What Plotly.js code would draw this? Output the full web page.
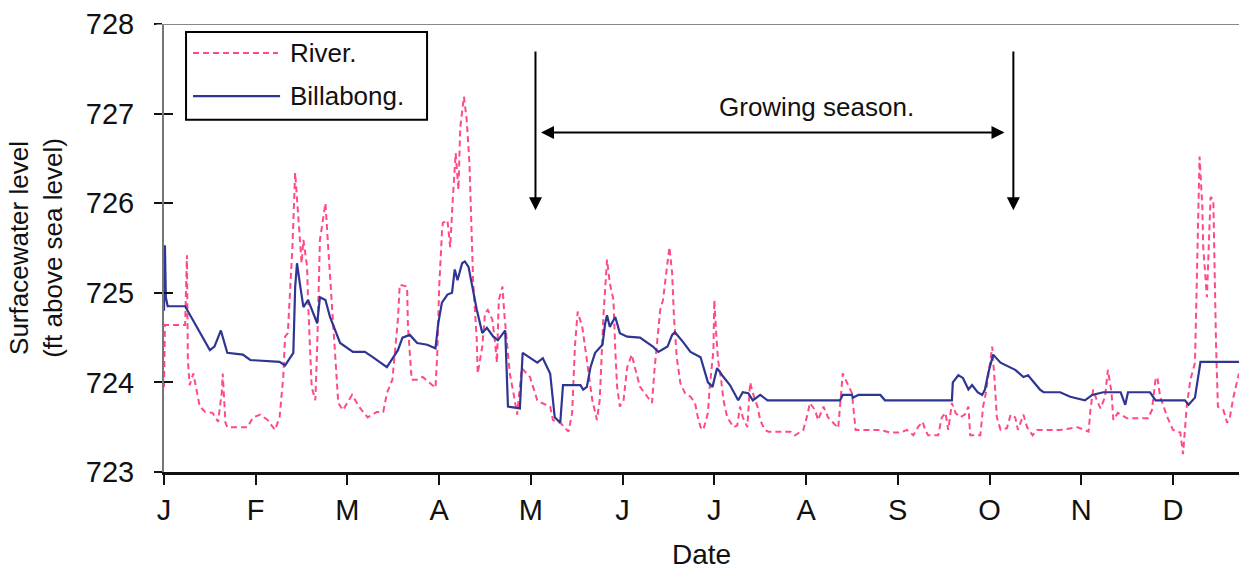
<!DOCTYPE html>
<html>
<head>
<meta charset="utf-8">
<script src="https://cdn.plot.ly/plotly-3.0.1.min.js"></script>
<style>
  html, body { margin: 0; padding: 0; background: #fff; }
  #chart { width: 1239px; height: 575px; }
</style>
</head>
<body>
<div id="chart"></div>
<script>
// x values are in months since 1 January (0 = J, 1 = F, ...)
const monthTicks = [0, 1, 2, 3, 4, 5, 6, 7, 8, 9, 10, 11];
const monthLabels = ["J", "F", "M", "A", "M", "J", "J", "A", "S", "O", "N", "D"];
const levelTicks = [723, 724, 725, 726, 727, 728];

const billabongX = [0.00,0.01,0.02,0.04,0.23,0.31,0.50,0.55,0.62,0.69,0.86,0.94,1.26,1.32,1.41,1.43,1.45,1.48,1.52,1.57,1.67,1.70,1.76,1.81,1.92,2.06,2.19,2.28,2.43,2.55,2.60,2.68,2.76,2.87,2.96,2.99,3.03,3.09,3.14,3.17,3.20,3.25,3.28,3.32,3.37,3.41,3.47,3.52,3.59,3.64,3.72,3.75,3.88,3.91,4.07,4.13,4.21,4.26,4.32,4.35,4.54,4.57,4.61,4.65,4.70,4.78,4.81,4.83,4.86,4.92,4.97,5.05,5.19,5.33,5.39,5.49,5.54,5.57,5.66,5.74,5.85,5.93,5.98,6.03,6.10,6.17,6.26,6.31,6.37,6.42,6.50,6.58,7.37,7.40,7.50,7.51,7.57,7.81,7.86,8.59,8.60,8.66,8.71,8.77,8.81,8.87,8.92,8.95,8.99,9.04,9.12,9.28,9.37,9.42,9.55,9.59,9.77,9.88,10.04,10.12,10.24,10.43,10.48,10.51,10.75,10.81,11.13,11.17,11.24,11.28,11.30,11.72];
const billabongY = [724.80,725.53,724.95,724.85,724.85,724.70,724.36,724.40,724.58,724.33,724.31,724.25,724.23,724.19,724.33,725.06,725.33,725.11,724.84,724.92,724.66,724.95,724.92,724.73,724.44,724.34,724.34,724.28,724.17,724.36,724.50,724.53,724.44,724.42,724.38,724.66,724.89,724.98,725.00,725.26,725.14,725.33,725.35,725.29,725.00,724.81,724.55,724.61,724.51,724.47,724.58,723.73,723.71,724.33,724.22,724.27,724.10,723.61,723.55,723.97,723.97,723.92,723.95,724.17,724.33,724.42,724.66,724.75,724.62,724.73,724.55,724.51,724.50,724.40,724.34,724.40,724.53,724.56,724.45,724.34,724.28,724.00,723.95,724.16,724.06,723.97,723.80,723.89,723.88,723.80,723.86,723.80,723.80,723.86,723.86,723.83,723.86,723.86,723.80,723.80,724.00,724.08,724.05,723.92,723.97,723.89,723.86,723.92,724.12,724.31,724.22,724.14,724.06,724.08,723.92,723.89,723.89,723.84,723.80,723.86,723.89,723.89,723.75,723.89,723.89,723.80,723.80,723.75,723.83,724.08,724.23,724.23];

const riverX = [0.00,0.01,0.21,0.23,0.25,0.26,0.28,0.32,0.39,0.45,0.53,0.59,0.63,0.64,0.67,0.69,0.91,0.97,1.05,1.13,1.21,1.26,1.30,1.32,1.35,1.40,1.43,1.46,1.50,1.52,1.56,1.57,1.61,1.65,1.67,1.70,1.73,1.76,1.79,1.83,1.89,1.90,1.95,2.05,2.14,2.22,2.32,2.39,2.43,2.49,2.55,2.57,2.65,2.66,2.70,2.76,2.82,2.90,2.96,2.98,3.00,3.03,3.04,3.09,3.12,3.15,3.18,3.21,3.23,3.27,3.30,3.33,3.36,3.37,3.41,3.42,3.47,3.50,3.53,3.58,3.61,3.63,3.65,3.69,3.71,3.74,3.77,3.81,3.85,3.90,3.99,4.07,4.12,4.21,4.24,4.32,4.41,4.45,4.48,4.51,4.56,4.59,4.62,4.67,4.72,4.75,4.79,4.81,4.83,4.86,4.90,4.92,4.94,4.97,5.01,5.05,5.10,5.14,5.19,5.27,5.32,5.35,5.41,5.44,5.49,5.51,5.54,5.56,5.59,5.63,5.68,5.74,5.79,5.82,5.85,5.88,5.93,5.95,5.99,6.00,6.02,6.04,6.07,6.10,6.14,6.21,6.25,6.28,6.31,6.36,6.39,6.42,6.47,6.50,6.55,6.59,6.83,6.88,6.97,7.02,7.04,7.10,7.13,7.19,7.24,7.30,7.35,7.37,7.40,7.45,7.50,7.54,7.81,7.92,8.03,8.10,8.17,8.22,8.27,8.30,8.33,8.44,8.48,8.52,8.55,8.59,8.63,8.68,8.73,8.77,8.79,8.90,8.93,8.96,9.01,9.03,9.06,9.08,9.12,9.19,9.23,9.28,9.31,9.37,9.41,9.47,9.52,9.77,9.96,10.08,10.10,10.13,10.17,10.21,10.26,10.29,10.33,10.35,10.40,10.50,10.73,10.77,10.81,10.83,10.86,10.94,11.00,11.08,11.11,11.15,11.19,11.24,11.26,11.29,11.32,11.33,11.37,11.41,11.44,11.45,11.47,11.49,11.55,11.59,11.62,11.66,11.70,11.72];
const riverY = [723.95,724.64,724.64,724.64,725.42,724.25,723.97,724.10,723.73,723.67,723.66,723.56,723.89,724.10,723.55,723.50,723.50,723.61,723.64,723.58,723.47,723.61,724.06,724.51,724.55,725.51,726.34,725.85,725.33,725.59,725.29,724.92,723.95,723.80,724.40,725.59,725.81,726.00,725.51,724.84,723.80,723.77,723.69,723.86,723.71,723.61,723.67,723.67,723.88,724.03,724.70,725.09,725.07,724.62,724.03,724.03,724.06,723.99,723.94,724.33,725.06,725.67,725.78,725.81,725.51,726.07,726.56,726.15,726.85,727.19,726.93,726.45,725.51,725.14,724.47,724.10,724.40,724.77,724.81,724.70,724.44,724.22,724.92,725.07,724.77,724.40,724.10,723.88,723.64,724.16,724.06,723.80,723.77,723.73,723.58,723.55,723.45,723.66,724.40,724.79,724.62,724.40,724.17,723.80,723.58,723.80,724.73,725.11,725.37,725.11,724.92,724.36,723.95,723.73,723.80,724.17,724.31,724.14,723.95,723.84,723.77,724.17,724.81,724.92,725.33,725.51,725.22,724.73,724.28,723.99,723.88,723.84,723.77,723.61,723.50,723.47,723.66,723.95,724.36,724.92,724.55,724.25,724.06,723.80,723.61,723.50,723.52,723.73,723.61,723.50,724.00,723.88,723.73,723.58,723.47,723.45,723.45,723.41,723.47,723.66,723.77,723.69,723.58,723.73,723.61,723.55,723.49,723.73,724.10,723.99,723.88,723.47,723.47,723.44,723.44,723.47,723.41,723.50,723.56,723.47,723.41,723.41,723.61,723.66,723.47,723.77,723.66,723.61,723.64,723.73,723.41,723.41,723.73,723.88,724.25,724.40,723.95,723.61,723.47,723.49,723.64,723.61,723.47,723.64,723.50,723.41,723.47,723.47,723.50,723.45,723.69,723.92,723.80,723.71,723.84,724.14,723.89,723.58,723.66,723.60,723.60,723.69,724.03,724.06,723.84,723.61,723.47,723.44,723.20,723.73,724.03,724.22,725.14,726.52,725.96,725.51,724.95,726.07,726.04,725.33,724.40,723.73,723.69,723.55,723.61,723.84,724.03,724.10];

// growing season markers (months) and arrow levels
const seasonStart = 4.05, seasonEnd = 9.26;
const markerTop = 727.71, markerBottom = 725.92, spanLevel = 726.79, labelLevel = 727.07;

const riverColor = "#ff4a86";
const billColor = "#2e3592";
const FONT = "Liberation Sans, Arial, sans-serif";

const traces = [
  {x: riverX, y: riverY, type: "scatter", mode: "lines", name: "River.",
   line: {color: riverColor, width: 2, dash: "6px,4px"}, showlegend: false},
  {x: billabongX, y: billabongY, type: "scatter", mode: "lines", name: "Billabong.",
   line: {color: billColor, width: 2.2}, showlegend: false},
  {x: [], y: [], yaxis: "y2", type: "scatter", mode: "lines", showlegend: false, hoverinfo: "skip"}
];

const arrowCommon = {xref: "x", yref: "y", axref: "x", ayref: "y", text: "", showarrow: true,
  arrowhead: 2, arrowsize: 1.3, arrowwidth: 2, arrowcolor: "#000", standoff: 0, startstandoff: 0};

const layout = {
  width: 1239, height: 575,
  margin: {l: 164, r: 0, t: 24, b: 103},
  paper_bgcolor: "#fff", plot_bgcolor: "#fff",
  font: {family: FONT, color: "#111"},
  xaxis: {
    range: [0, 11.72], tickvals: monthTicks, ticktext: monthLabels,
    showgrid: false, zeroline: false, showline: true, linecolor: "#111", linewidth: 3,
    ticks: "outside", ticklen: 10, tickwidth: 2, tickcolor: "#111",
    tickfont: {size: 29, family: FONT, color: "#111"}, ticklabelstandoff: 0,
    title: {text: "Date", font: {size: 28, family: FONT, color: "#111"}, standoff: 20},
    fixedrange: true
  },
  yaxis: {
    range: [723, 728], tickvals: levelTicks, ticktext: levelTicks.map(String),
    showgrid: false, zeroline: false, showline: true, linecolor: "#777", linewidth: 2,
    ticks: "outside", ticklen: 8, tickwidth: 2, tickcolor: "#111",
    tickfont: {size: 29, family: FONT, color: "#111"}, ticklabelstandoff: 14,
    title: {text: "Surfacewater level<br>(ft above sea level)", font: {size: 26, family: FONT, color: "#111"}, standoff: 16},
    fixedrange: true
  },
  yaxis2: {
    overlaying: "y", anchor: "x", side: "left", range: [723, 728], tickvals: levelTicks,
    showticklabels: false, showgrid: false, zeroline: false, showline: false,
    ticks: "inside", ticklen: 9, tickwidth: 2, tickcolor: "#111", fixedrange: true
  },
  shapes: [
    // top border line at 728
    {type: "line", xref: "paper", yref: "y", x0: -0.007, x1: 1, y0: 728, y1: 728, line: {color: "#888", width: 2}},
    // legend box
    {type: "rect", xref: "paper", yref: "paper", x0: 0.0205, x1: 0.2447, y0: 0.786, y1: 0.982,
     line: {color: "#000", width: 2}, fillcolor: "rgba(255,255,255,0)"},
    {type: "line", xref: "paper", yref: "paper", x0: 0.027, x1: 0.106, y0: 0.935, y1: 0.935,
     line: {color: riverColor, width: 2, dash: "6px,4px"}},
    {type: "line", xref: "paper", yref: "paper", x0: 0.027, x1: 0.108, y0: 0.839, y1: 0.839,
     line: {color: billColor, width: 2.2}}
  ],
  annotations: [
    {xref: "paper", yref: "paper", x: 0.1153, y: 0.935, xanchor: "left", yanchor: "middle",
     text: "River.", showarrow: false, font: {size: 26, family: FONT, color: "#111"}},
    {xref: "paper", yref: "paper", x: 0.1153, y: 0.839, xanchor: "left", yanchor: "middle",
     text: "Billabong.", showarrow: false, font: {size: 26, family: FONT, color: "#111"}},
    Object.assign({}, arrowCommon, {x: seasonStart, y: markerBottom, ax: seasonStart, ay: markerTop}),
    Object.assign({}, arrowCommon, {x: seasonEnd, y: markerBottom, ax: seasonEnd, ay: markerTop}),
    Object.assign({}, arrowCommon, {x: seasonStart + 0.06, y: spanLevel, ax: seasonEnd - 0.08, ay: spanLevel, arrowside: "end+start"}),
    {xref: "x", yref: "y", x: (seasonStart + seasonEnd) / 2 + 0.46, y: labelLevel, text: "Growing season.",
     showarrow: false, xanchor: "center", yanchor: "middle", font: {size: 26, family: FONT, color: "#111"}}
  ]
};

Plotly.newPlot("chart", traces, layout, {staticPlot: true, displayModeBar: false});
</script>
</body>
</html>
